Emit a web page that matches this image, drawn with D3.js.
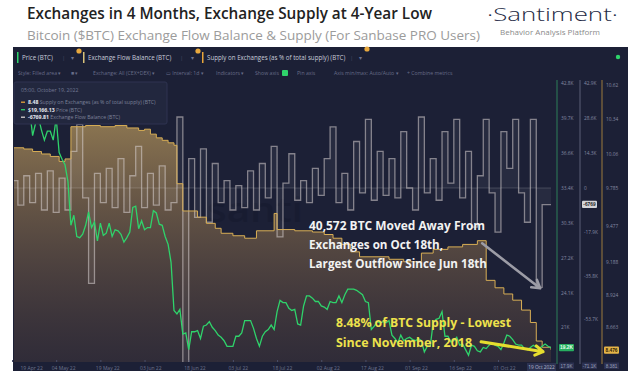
<!DOCTYPE html>
<html>
<head>
<meta charset="utf-8">
<script src="https://cdn.jsdelivr.net/npm/d3@7"></script>
<style>
  body { margin: 0; background: #fff; }
  svg { display: block; font-family: "Open Sans", sans-serif; }
</style>
</head>
<body>
<svg id="chart"></svg>
<script>
// ---- data ----
const priceStart = "2022-04-19"; // daily BTC price, K USD
const priceValues = [
  41.5, 41.4, 40.5, 39.7, 39.5, 39.5, 40.4, 38.1, 39.2, 39.7, 38.6, 37.7,
  38.5, 38.5, 37.7, 39.7, 36.6, 36.0, 35.5, 34.0, 30.1, 31.0, 29.1, 29.0, 29.3, 30.1, 31.3, 29.9, 30.4, 28.7, 30.3,
  29.2, 29.4, 30.3, 29.1, 29.7, 29.6, 29.3, 28.6, 29.0, 29.5, 31.7, 31.8,
  29.8, 30.5, 29.7, 29.9, 29.9, 31.4, 31.2, 30.2, 30.1, 29.1, 28.4, 26.8, 22.5, 22.2, 22.6, 20.4, 20.5, 19.0,
  20.6, 20.6, 20.7, 20.0, 21.1, 21.2, 21.5, 21.0, 20.7, 20.3, 20.1, 19.8,
  19.3, 19.3, 19.3, 20.2, 20.2, 20.5, 21.6, 21.6, 21.6, 20.9, 20.0, 19.3, 20.2, 20.6, 20.8, 21.2, 20.8, 22.4,
  23.4, 23.2, 23.2, 22.7, 22.5, 22.6, 21.3, 21.2, 22.9, 23.8, 23.8, 23.6, 23.3,
  23.3, 22.9, 22.8, 22.6, 23.3, 23.2, 23.2, 23.8, 23.2, 23.9, 24.4, 24.4, 24.4, 24.3, 24.1, 23.9, 23.3, 23.2,
  20.8, 21.1, 21.5, 21.4, 21.5, 21.4, 21.6, 20.3, 20.0, 19.6, 20.3, 19.8, 20.0,
  20.1, 19.9, 19.8, 20.0, 19.8, 18.8, 19.3, 19.3, 21.4, 21.7, 21.8, 22.4, 20.2, 20.2, 19.7, 19.8, 20.1, 19.4,
  19.5, 19.0, 18.5, 19.4, 19.3, 18.9, 18.8, 19.2, 19.1, 19.4, 19.6, 19.4,
  19.3, 19.0, 19.6, 20.3, 20.2, 19.9, 19.5, 19.4, 19.4, 19.1, 19.0, 19.2, 19.4, 19.2, 19.1, 19.3, 19.5, 19.3, 19.17
];

const flowStart = "2022-04-19"; // exchange flow balance, K BTC, one value per 2 days
const flowStepDays = 2;
const flowValues = [
  3, -7, 5, -6, 6, -9, 7, -10, 4, -9, 15, 26, -4, -39, 6, -6, 8, -8, 12, -10,
  5, 17, -8, 6, -7, 9, -9, -6, 29, -75, 12, -12, 16, -14, 10, -6, 3, -9, 1, -8,
  7, -9, 10, -4, 17, -20, 2, 14, -5, 3, -6, 8, -3, 12, 25, -6, 6, -9, 19, -2,
  28, -5, 15, -3, 12, -4, 23, 0, -9, 29, -2, 12, -5, 23, 2, 28, -4, 15, -16, 5,
  28, -2, -18, 23, 8, 28, -2, -14, 28, -40.572, -6.77, -6.77
];

const supplyDates = [
  "04-19", "04-23", "04-26", "04-29", "05-02", "05-05", "05-07", "05-09", "05-14", "05-19",
  "05-24", "05-28", "06-01", "06-03", "06-05", "06-07", "06-09", "06-11", "06-13", "06-14",
  "06-16", "06-21", "06-24", "06-27", "06-29", "07-03", "07-07", "07-11", "07-17", "07-18",
  "07-24", "07-30", "08-03", "08-06", "08-09", "08-12", "08-15", "08-25", "08-30", "09-05",
  "09-09", "09-14", "09-19", "09-24", "09-27", "09-30", "10-03", "10-06", "10-09", "10-12",
  "10-14", "10-16", "10-19"
];
const supplyValues = [
  10.11, 10.10, 10.08, 10.06, 10.04, 10.00, 10.02, 10.28, 10.29, 10.28,
  10.29, 10.27, 10.25, 10.26, 10.22, 10.19, 10.17, 10.15, 10.13, 9.82,
  9.60, 9.55, 9.50, 9.46, 9.42, 9.40, 9.38, 9.44, 9.58, 9.45,
  9.44, 9.43, 9.41, 9.38, 9.33, 9.27, 9.23, 9.21, 9.19, 9.26,
  9.29, 9.31, 9.33, 9.36, 9.04, 8.98, 8.93, 8.88, 8.80, 8.70,
  8.55, 8.50, 8.48
];

const dateTicks = ["2022-04-19", "2022-05-04", "2022-05-19", "2022-06-03", "2022-06-18", "2022-07-03",
  "2022-07-18", "2022-08-02", "2022-08-17", "2022-09-01", "2022-09-16", "2022-10-01"];
const priceTicks = [42.8, 39.7, 36.6, 33.4, 30.3, 27.2, 24.1, 21];
const flowTicks = [42.9, 28.6, 14.3, 0, -17.9, -35.8, -53.7];
const supplyTicks = [10.62, 10.34, 10.06, 9.785, 9.477, 9.188, 8.924, 8.663];

// ---- setup ----
const W = 640, H = 371;
const plot = { left: 14, right: 551, top: 80, bottom: 362 };
const parse = d3.timeParse("%Y-%m-%d");
const fontUI = "'Open Sans', sans-serif";

const svg = d3.select("#chart").attr("width", W).attr("height", H);

const x = d3.scaleTime().domain([parse("2022-04-19"), parse("2022-10-19")]).range([12, 551]);
const yPrice = d3.scaleLinear().domain([17.9, 42.8]).range([362, 83]);
const yFlow = d3.scaleLinear().domain([-71.1, 42.9]).range([362, 83]);
const ySupply = d3.scaleLinear().domain([8.381, 10.657]).range([362, 80]);

const price = priceValues.map((v, i) => ({ date: d3.timeDay.offset(parse(priceStart), i), v }));
const flow = flowValues.map((v, i) => ({ date: d3.timeDay.offset(parse(flowStart), i * flowStepDays), v }));
flow.push({ date: d3.timeDay.offset(flow[flow.length - 1].date, flowStepDays), v: flow[flow.length - 1].v });
const supply = supplyDates.map((d, i) => ({ date: parse("2022-" + d), v: supplyValues[i] }));

// ---- header ----
svg.append("rect").attr("width", W).attr("height", H).attr("fill", "#fff");
svg.append("text").attr("x", 27).attr("y", 19).attr("font-size", 16.5).attr("font-weight", 600)
  .attr("fill", "#222").attr("textLength", 405).attr("lengthAdjust", "spacingAndGlyphs")
  .text("Exchanges in 4 Months, Exchange Supply at 4-Year Low");
svg.append("text").attr("x", 27).attr("y", 40).attr("font-size", 13.5).attr("font-weight", 400)
  .attr("fill", "#9b9b9b").attr("textLength", 453).attr("lengthAdjust", "spacingAndGlyphs")
  .text("Bitcoin ($BTC) Exchange Flow Balance & Supply (For Sanbase PRO Users)");
svg.append("text").attr("x", 487).attr("y", 21).attr("font-size", 19).attr("font-weight", 300)
  .attr("fill", "#1e2a45").attr("textLength", 131).attr("lengthAdjust", "spacingAndGlyphs")
  .text("·Santiment·");
svg.append("text").attr("x", 500).attr("y", 35).attr("font-size", 7).attr("fill", "#8a8a8a")
  .attr("textLength", 100).attr("lengthAdjust", "spacingAndGlyphs").text("Behavior Analysis Platform");

// ---- dark panel ----
svg.append("rect").attr("x", 13).attr("y", 47).attr("width", 615).attr("height", H - 47).attr("fill", "#1c2036");

// tabs row
const tabs = [
  { x: 17, label: "Price (BTC)", color: "#2fd36b", sep: 62, caret: 71 },
  { x: 83, label: "Exchange Flow Balance (BTC)", color: "#d8c27a", sep: 180, caret: 191 },
  { x: 202, label: "Supply on Exchanges (as % of total supply) (BTC)", color: "#e8a53a", sep: 350, caret: 359 }
];
tabs.forEach(t => {
  svg.append("rect").attr("x", t.x).attr("y", 52).attr("width", 1.5).attr("height", 11).attr("fill", t.color);
  svg.append("text").attr("x", t.x + 5).attr("y", 60).attr("font-size", 6.2).attr("fill", "#c9ccd9").text(t.label);
  svg.append("text").attr("x", t.sep).attr("y", 60).attr("font-size", 6).attr("fill", "#454a63").text("|");
  svg.append("text").attr("x", t.caret).attr("y", 60).attr("font-size", 6).attr("fill", "#6f7490").text("▾");
});
[[79, 51], [198, 51], [367, 49]].forEach(([cx, cy]) =>
  svg.append("circle").attr("cx", cx).attr("cy", cy).attr("r", 2.6).attr("fill", "#e9a93e"));
svg.append("circle").attr("cx", 618).attr("cy", 57).attr("r", 2.2).attr("fill", "#2fd36b");

// settings row
const settings = [
  [18, "Style: Filled area ▾"], [71, "■ ▾"], [93, "Exchange: All (CEX+DEX) ▾"], [166, "▭ Interval: 1d ▾"],
  [216, "Indicators ▾"], [255, "Show axis"], [297, "Pin axis"], [334, "Axis min/max: Auto/Auto ▾"], [407, "+ Combine metrics"]
];
settings.forEach(([sx, s]) =>
  svg.append("text").attr("x", sx).attr("y", 75).attr("font-size", 5.2).attr("fill", "#676c88").text(s));
svg.append("rect").attr("x", 282).attr("y", 70).attr("width", 6).attr("height", 6).attr("rx", 1).attr("fill", "#2fd36b");

// ---- plot ----
svg.append("defs").append("clipPath").attr("id", "clip").append("rect")
  .attr("x", plot.left).attr("y", plot.top).attr("width", plot.right - plot.left).attr("height", plot.bottom - plot.top);
const grad = svg.select("defs").append("linearGradient").attr("id", "supplyFill")
  .attr("gradientUnits", "userSpaceOnUse").attr("x1", 0).attr("x2", 0).attr("y1", 120).attr("y2", plot.bottom);
grad.append("stop").attr("offset", 0).attr("stop-color", "#a08556").attr("stop-opacity", 0.85);
grad.append("stop").attr("offset", 1).attr("stop-color", "#6b4f3f").attr("stop-opacity", 0.25);

const g = svg.append("g").attr("clip-path", "url(#clip)");

g.append("path").datum(supply).attr("fill", "url(#supplyFill)")
  .attr("d", d3.area().curve(d3.curveStepAfter).x(d => x(d.date)).y0(plot.bottom).y1(d => ySupply(d.v)));

// faint watermark, mostly hidden in the reference
g.append("text").attr("x", 207).attr("y", 222).attr("font-size", 34).attr("font-weight", 600)
  .attr("fill", "#0c0f22").attr("opacity", 0.22).attr("textLength", 96).attr("lengthAdjust", "spacingAndGlyphs")
  .text("santi");

g.append("line").attr("x1", plot.left).attr("x2", plot.right).attr("y1", yFlow(0)).attr("y2", yFlow(0))
  .attr("stroke", "#fff").attr("stroke-opacity", 0.16);

g.append("path").datum(flow).attr("fill", "#fff").attr("fill-opacity", 0.05)
  .attr("d", d3.area().curve(d3.curveStepAfter).x(d => x(d.date)).y0(yFlow(0)).y1(d => yFlow(d.v)));
g.append("path").datum(flow).attr("fill", "none").attr("stroke", "#d9d2d2").attr("stroke-opacity", 0.55)
  .attr("stroke-width", 1.3)
  .attr("d", d3.line().curve(d3.curveStepAfter).x(d => x(d.date)).y(d => yFlow(d.v)));

g.append("path").datum(supply).attr("fill", "none").attr("stroke", "#d8ae55").attr("stroke-width", 1)
  .attr("d", d3.line().curve(d3.curveStepAfter).x(d => x(d.date)).y(d => ySupply(d.v)));

g.append("path").datum(price).attr("fill", "none").attr("stroke", "#2fd36b").attr("stroke-width", 1.3)
  .attr("d", d3.line().x(d => x(d.date)).y(d => yPrice(d.v)));

// ---- legend box ----
svg.append("rect").attr("x", 14).attr("y", 82).attr("width", 153).attr("height", 42).attr("rx", 2)
  .attr("fill", "#22273e").attr("stroke", "#2e3350");
svg.append("text").attr("x", 21).attr("y", 92).attr("font-size", 5.2).attr("fill", "#737994").text("05:00, October 19, 2022");
const legend = [
  { color: "#e8a53a", value: "8.48", label: "Supply on Exchanges (as % of total supply) (BTC)" },
  { color: "#2fd36b", value: "$19,166.13", label: "Price (BTC)" },
  { color: "#d9d2d2", value: "-6769.81", label: "Exchange Flow Balance (BTC)" }
];
legend.forEach((l, i) => {
  const ly = 104 + i * 7.5;
  svg.append("line").attr("x1", 21).attr("x2", 25).attr("y1", ly - 1.8).attr("y2", ly - 1.8)
    .attr("stroke", l.color).attr("stroke-width", 1.3);
  const t = svg.append("text").attr("x", 28).attr("y", ly).attr("font-size", 5.2);
  t.append("tspan").attr("font-weight", 700).attr("fill", "#e6e8f0").text(l.value + " ");
  t.append("tspan").attr("fill", "#7d8299").text(l.label);
});

// ---- date axis ----
const fmtDate = d3.timeFormat("%d %b %y");
const xAxis = svg.append("g").attr("transform", `translate(0,${plot.bottom - 2})`)
  .call(d3.axisBottom(x).tickValues(dateTicks.map(parse)).tickFormat(fmtDate).tickSize(2).tickSizeOuter(0));
xAxis.select(".domain").remove();
xAxis.selectAll(".tick line").attr("stroke", "#4a4f6a");
xAxis.selectAll(".tick text").attr("font-size", 5).attr("fill", "#6e748e").attr("font-family", fontUI)
  .attr("text-anchor", "start").attr("dy", 4.5)
  .attr("dx", d => Math.max(-5, 20 - x(d)));
svg.append("rect").attr("x", 527).attr("y", 363).attr("width", 29).attr("height", 8).attr("fill", "#2c3252");
svg.append("text").attr("x", 541.5).attr("y", 369).attr("text-anchor", "middle").attr("font-size", 4.8)
  .attr("fill", "#b3b8cc").text("19 Oct 2022");

// ---- right axes ----
function sideAxis(scale, xPos, ticks, fmt, lineColor, current, curText, curFill, curTextFill, bottomText) {
  const a = svg.append("g").attr("transform", `translate(${xPos},0)`)
    .call(d3.axisRight(scale).tickValues(ticks).tickFormat(fmt).tickSize(0).tickSizeOuter(0).tickPadding(4));
  a.select(".domain").attr("stroke", lineColor).attr("d", `M0,${plot.top}V${plot.bottom + 2}`);
  a.selectAll("text").attr("font-size", 4.8).attr("fill", "#858aa3").attr("font-family", fontUI);
  a.append("rect").attr("x", 2).attr("y", scale(current) - 3.8).attr("width", 15).attr("height", 7.2)
    .attr("rx", 1).attr("fill", curFill);
  a.append("text").attr("x", 9.5).attr("y", scale(current) + 1.7).attr("text-anchor", "middle")
    .attr("font-size", 4.8).attr("font-weight", 700).attr("fill", curTextFill).text(curText);
  a.append("rect").attr("x", 2).attr("y", 362.5).attr("width", 15).attr("height", 6.5).attr("fill", "#2b3050");
  a.append("text").attr("x", 9.5).attr("y", 367.5).attr("text-anchor", "middle")
    .attr("font-size", 4.6).attr("fill", "#9aa0b8").text(bottomText);
}
sideAxis(yPrice, 557, priceTicks, v => v + "K", "#2d7f58", 19.17, "19.2K", "#27ae60", "#eafff1", "17.9K");
sideAxis(yFlow, 580, flowTicks, v => (v === 0 ? "0" : v + "K"), "#5b5f77", -6.77, "-6769", "#d4d4d8", "#222", "-71.1K");
sideAxis(ySupply, 602, supplyTicks, v => String(v), "#9c7b3c", 8.476, "8.476", "#e5b448", "#2a2000", "8.381");

// ---- annotations ----
function arrow(x0, y0, x1, y1, color, w) {
  const a = Math.atan2(y1 - y0, x1 - x0), L = 9, s = 0.55;
  const p = d3.path();
  p.moveTo(x0, y0); p.lineTo(x1, y1);
  p.moveTo(x1 - L * Math.cos(a - s), y1 - L * Math.sin(a - s));
  p.lineTo(x1, y1);
  p.lineTo(x1 - L * Math.cos(a + s), y1 - L * Math.sin(a + s));
  svg.append("path").attr("d", p.toString()).attr("fill", "none").attr("stroke", color)
    .attr("stroke-width", w).attr("stroke-linecap", "round").attr("stroke-linejoin", "round");
}

const whiteLines = [
  ["40,572 BTC Moved Away From", 176], ["Exchanges on Oct 18th,", 134], ["Largest Outflow Since Jun 18th", 178]
];
whiteLines.forEach(([s, len], i) =>
  svg.append("text").attr("x", 309).attr("y", 230 + i * 19).attr("font-size", 12.5).attr("font-weight", 700)
    .attr("fill", "#f2f2f2").attr("textLength", len).attr("lengthAdjust", "spacingAndGlyphs").text(s));

const yellowLines = [["8.48% of BTC Supply - Lowest", 175], ["Since November, 2018", 136]];
yellowLines.forEach(([s, len], i) =>
  svg.append("text").attr("x", 336).attr("y", 327 + i * 20).attr("font-size", 12.5).attr("font-weight", 700)
    .attr("fill", "#eee24c").attr("textLength", len).attr("lengthAdjust", "spacingAndGlyphs").text(s));

const grayTipX = x(parse("2022-10-16")) - 2, grayTipY = yFlow(-40.572) + 1;
arrow(grayTipX - 58, grayTipY - 45, grayTipX, grayTipY, "#9c9ca6", 2.6);
const yelTipX = x(parse("2022-10-17")) - 2, yelTipY = ySupply(8.48) + 2;
arrow(yelTipX - 62, yelTipY - 10, yelTipX, yelTipY, "#e6dd2e", 3);
</script>
</body>
</html>
